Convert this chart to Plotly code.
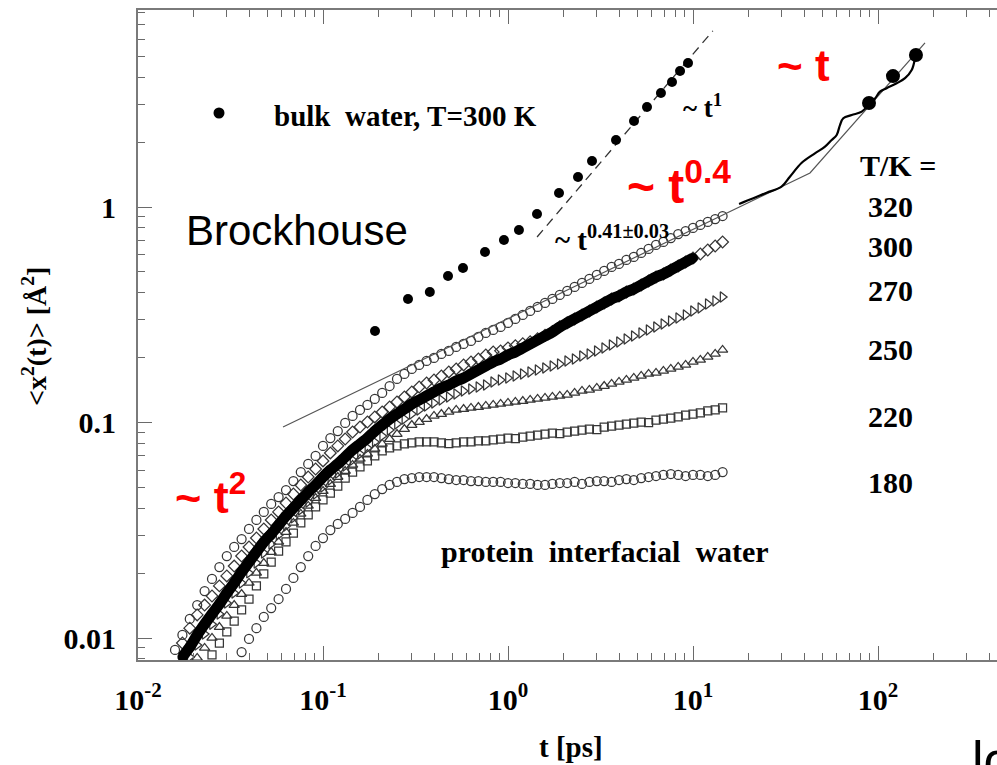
import plotly.graph_objects as go

# ---------------------------------------------------------------------------
# Mean-square displacement <x^2(t)> of water: protein interfacial water at
# several temperatures (open symbols), plus bulk water at T = 300 K.
# ---------------------------------------------------------------------------

# common time grid of the simulation series [ps]
T_GRID = [0.01585, 0.01738, 0.01905, 0.02089, 0.02291, 0.02512, 0.02754, 0.03020, 0.03311, 0.03631,
          0.03981, 0.04365, 0.04786, 0.05248, 0.05754, 0.06310, 0.06918, 0.07586, 0.08318, 0.09120,
          0.1000, 0.1096, 0.1202, 0.1318, 0.1445, 0.1585, 0.1738, 0.1905, 0.2089, 0.2291,
          0.2512, 0.2754, 0.3020, 0.3311, 0.3631, 0.3981, 0.4365, 0.4786, 0.5248, 0.5754,
          0.6310, 0.6918, 0.7586, 0.8318, 0.9120, 1.000, 1.096, 1.202, 1.318, 1.445,
          1.585, 1.738, 1.905, 2.089, 2.291, 2.512, 2.754, 3.020, 3.311, 3.631,
          3.981, 4.365, 4.786, 5.248, 5.754, 6.310, 6.918, 7.586, 8.318, 9.120,
          10.00, 10.96, 12.02, 13.18, 14.45]

# protein interfacial water, <x^2> [A^2]
msd_320 = [0.00880, 0.01033, 0.01226, 0.01422, 0.01652, 0.01880, 0.02134, 0.02401, 0.02645, 0.02879,
           0.03206, 0.0353, 0.03847, 0.04187, 0.0451, 0.0486, 0.0535, 0.0589, 0.0642, 0.0700,
           0.0778, 0.0847, 0.0913, 0.0995, 0.1072, 0.1143, 0.1206, 0.1286, 0.1371, 0.1477,
           0.1592, 0.1680, 0.1772, 0.1850, 0.1930, 0.1993, 0.2080, 0.2148, 0.2241, 0.2314,
           0.2389, 0.2494, 0.2603, 0.2688, 0.2775, 0.2897, 0.3023, 0.3155, 0.3293, 0.3436,
           0.3586, 0.3743, 0.3907, 0.4077, 0.4255, 0.4440, 0.4634, 0.4837, 0.5048, 0.5269,
           0.5440, 0.5678, 0.5863, 0.6119, 0.6385, 0.6664, 0.6881, 0.7179, 0.7493, 0.7737,
           0.7991, 0.8251, 0.852, 0.8796, 0.9083]

msd_300 = [0.00948, 0.01111, 0.0128, 0.01422, 0.01566, 0.01745, 0.01941, 0.02157, 0.02401,
           0.02645, 0.0291, 0.03206, 0.0353, 0.03847, 0.04232, 0.04657, 0.05129, 0.05586, 0.06086,
           0.0663, 0.07222, 0.07785, 0.08384, 0.09035, 0.0953, 0.1005, 0.1061, 0.1119, 0.1180,
           0.1245, 0.1314, 0.1386, 0.1461, 0.1525, 0.1575, 0.1644, 0.1716, 0.1772, 0.1850,
           0.1910, 0.1972, 0.2058, 0.2125, 0.2150, 0.2220, 0.2270, 0.2320, 0.2370, 0.2450,
           0.2540, 0.2645, 0.2780, 0.2900, 0.3025, 0.3157, 0.3295, 0.3438, 0.3588, 0.3745,
           0.3867, 0.4036, 0.4166, 0.4349, 0.4538, 0.4736, 0.4890, 0.5104, 0.5327, 0.5560,
           0.5802, 0.6053, 0.6318, 0.6593, 0.6881]

msd_filled = [0.00817, 0.00908, 0.01033, 0.01159, 0.01293, 0.01437, 0.01617, 0.01801, 0.02026,
              0.02251, 0.02506, 0.0279, 0.03037, 0.03346, 0.03686, 0.04012, 0.0437, 0.04758, 0.05129,
              0.05586, 0.0602, 0.0642, 0.06923, 0.0746, 0.07953, 0.0847, 0.0913, 0.09736, 0.1038,
              0.1095, 0.1155, 0.1219, 0.1272, 0.1328, 0.1386, 0.1446, 0.1493, 0.1558, 0.1609,
              0.1680, 0.1753, 0.1830, 0.1910, 0.1972, 0.2058, 0.2125, 0.2217, 0.2314, 0.2415,
              0.2521, 0.2631, 0.2775, 0.2897, 0.3023, 0.3155, 0.3293, 0.3436, 0.3586, 0.3743,
              0.3865, 0.4034, 0.4164, 0.4347, 0.4536, 0.4734, 0.4888, 0.5102, 0.5325, 0.5558,
              0.5800]

msd_270 = [0.00817, 0.00928, 0.01044, 0.01159, 0.01293, 0.01453, 0.01617, 0.01801,
           0.02005, 0.02227, 0.02479, 0.0273, 0.03005, 0.03311, 0.03608, 0.0393, 0.04278, 0.04657,
           0.0502, 0.0541, 0.0583, 0.06284, 0.0670, 0.07147, 0.0762, 0.08125, 0.08657, 0.0923,
           0.0984, 0.1038, 0.1095, 0.1143, 0.1193, 0.1232, 0.1272, 0.1314, 0.1357, 0.1401,
           0.1431, 0.1461, 0.1493, 0.1542, 0.1575, 0.1609, 0.1644, 0.1680, 0.1716, 0.1753,
           0.1791, 0.1830, 0.1869, 0.1930, 0.1972, 0.2036, 0.2080, 0.2148, 0.2217, 0.2289,
           0.2364, 0.2441, 0.2521, 0.2603, 0.2688, 0.2775, 0.2866, 0.2959, 0.3055, 0.3155,
           0.3293, 0.340, 0.3548, 0.3664, 0.3824]

msd_250 = [0.00808, 0.00899, 0.01001, 0.01123, 0.01266, 0.01422, 0.016,
           0.01801, 0.02005, 0.02227, 0.02506, 0.0279, 0.03103, 0.03418, 0.03765, 0.04099, 0.04462,
           0.04808, 0.05183, 0.05586, 0.05956, 0.06352, 0.06776, 0.07147, 0.07539, 0.07953, 0.08384,
           0.08843, 0.09328, 0.09736, 0.1005, 0.1038, 0.1072, 0.1095, 0.1119, 0.1143, 0.1155,
           0.1168, 0.1180, 0.1193, 0.1206, 0.1219, 0.1232, 0.1245, 0.1258, 0.1272, 0.1286,
           0.1300, 0.1314, 0.1328, 0.1342, 0.1371, 0.1401, 0.1416, 0.1446, 0.1477, 0.1509,
           0.1542, 0.1575, 0.1609, 0.1644, 0.1680, 0.1698, 0.1734, 0.1772, 0.1810, 0.1850,
           0.1910, 0.1951, 0.2015, 0.2080, 0.2171]

msd_220 = [0.00834, 0.00948, 0.01067, 0.01197, 0.0135,
           0.01517, 0.01745, 0.01983, 0.02251, 0.02533, 0.0279, 0.0307, 0.03418, 0.03726, 0.04055,
           0.0437, 0.04706, 0.05074, 0.05526, 0.0589, 0.0622, 0.0663, 0.0700, 0.0738, 0.0762,
           0.07785, 0.07953, 0.08036, 0.08125, 0.08125, 0.08125, 0.08036, 0.07990, 0.08036, 0.08125,
           0.08125, 0.08210, 0.0821, 0.0830, 0.08384, 0.0847, 0.0842, 0.08565, 0.08657, 0.08749,
           0.08843, 0.08939, 0.08880, 0.09035, 0.0913, 0.0923, 0.09328, 0.09270, 0.0953, 0.09632,
           0.09736, 0.0984, 0.09946, 0.1005, 0.0998, 0.1027, 0.1038, 0.1049, 0.1061, 0.1083,
           0.1095, 0.1107, 0.1131, 0.1143, 0.1168]

msd_180 = [0.00861,
           0.0099, 0.01111, 0.01253, 0.01377, 0.01517, 0.01689, 0.019, 0.02134, 0.02401, 0.02673,
           0.0291, 0.0317, 0.03382, 0.03568, 0.03806, 0.04055, 0.0437, 0.04657, 0.04913, 0.05129,
           0.05296, 0.05466, 0.05526, 0.05586, 0.05586, 0.05586, 0.05526, 0.05466, 0.0541, 0.0541,
           0.0535, 0.0535, 0.05296, 0.05296, 0.05296, 0.05239, 0.05239, 0.05184, 0.05184, 0.05129,
           0.05129, 0.05184, 0.05239, 0.05239, 0.05296, 0.05184, 0.05296, 0.0535, 0.0535, 0.05296,
           0.0541, 0.05466, 0.0541, 0.05526, 0.05586, 0.05646, 0.05707, 0.05768, 0.05707, 0.05646,
           0.05707, 0.05707, 0.05646, 0.05707, 0.0589]

# bulk water, T = 300 K
bulk_t = [0.191, 0.288, 0.378, 0.474, 0.571, 0.751, 0.951, 1.146, 1.435, 1.887,
          2.39, 2.845, 3.835, 4.80, 5.64, 6.71, 7.70, 8.51, 9.40]
bulk_msd = [0.266, 0.374, 0.403, 0.478, 0.521, 0.618, 0.703, 0.782, 0.928, 1.161,
            1.378, 1.635, 2.046, 2.506, 2.911, 3.381, 3.802, 4.276, 4.66]

# long-time points and trajectory (diffusive regime)
long_t = [89.4, 120.5, 160.4]
long_msd = [3.04, 4.05, 5.07]
traj_t = [17.74, 21.18, 25.0, 30.1, 33.4, 38.7, 45.6, 51.7, 56.2, 59.8, 62.3,
          64.9, 72.1, 81.7, 90.5, 96.4, 102.5, 111.4, 126.2, 140.0, 152.1, 158.5]
traj_msd = [1.033, 1.097, 1.165, 1.242, 1.382, 1.605, 1.775, 1.905, 2.046, 2.159, 2.40,
            2.58, 2.673, 2.77, 3.03, 3.19, 3.43, 3.56, 3.75, 3.96, 4.32, 4.90]

# guide lines: ~t^0.41 fit continuing into ~t, and ~t^1 for bulk water
fit_t = [0.0608, 42.9, 179.5]
fit_msd = [0.0953, 1.438, 5.77]
lin_t = [1.436, 12.8]
lin_msd = [0.726, 6.57]

# temperature labels
temp_labels = ["320", "300", "270", "250", "220", "180"]

# axis ticks
x_tickvals = [0.01, 0.1, 1, 10, 100]
x_ticktext = ["10<sup>-2</sup>", "10<sup>-1</sup>", "10<sup>0</sup>", "10<sup>1</sup>", "10<sup>2</sup>"]
y_tickvals = [0.01, 0.1, 1]
y_ticktext = ["0.01", "0.1", "1"]

SERIF = "Liberation Serif, Times New Roman, serif"
SANS = "Liberation Sans, Arial, sans-serif"
EDGE = "#363636"

fig = go.Figure()

open_series = [
    (msd_180, 9, "circle-open", 9),
    (msd_220, 5, "square-open", 8),
    (msd_250, 3, "triangle-up-open", 9),
    (msd_270, 2, "triangle-right-open", 9),
    (msd_300, 1, "diamond-open", 9),
    (msd_320, 0, "circle-open", 9),
]
for vals, start, sym, size in open_series:
    fig.add_trace(go.Scatter(
        x=T_GRID[start:start + len(vals)], y=vals, mode="markers",
        marker=dict(symbol=sym, size=size, color=EDGE, line=dict(width=1.25, color=EDGE)),
        showlegend=False, hoverinfo="skip"))

# densely sampled run drawn as a solid band
fig.add_trace(go.Scatter(
    x=T_GRID[1:1 + len(msd_filled)], y=msd_filled, mode="lines+markers",
    line=dict(color="black", width=11, shape="spline", smoothing=0.8),
    marker=dict(symbol="circle", size=10, color="black"),
    showlegend=False, hoverinfo="skip"))

# guide lines
fig.add_trace(go.Scatter(x=fit_t, y=fit_msd, mode="lines",
                         line=dict(color="#555555", width=1.2), showlegend=False, hoverinfo="skip"))
fig.add_trace(go.Scatter(x=lin_t, y=lin_msd, mode="lines",
                         line=dict(color="#333333", width=1.3, dash="9px,6px"),
                         showlegend=False, hoverinfo="skip"))
fig.add_trace(go.Scatter(x=traj_t, y=traj_msd, mode="lines", line_shape="spline",
                         line=dict(color="black", width=2.2), showlegend=False, hoverinfo="skip"))

# bulk water
fig.add_trace(go.Scatter(x=bulk_t, y=bulk_msd, mode="markers",
                         marker=dict(symbol="circle", size=10, color="black"),
                         showlegend=False, hoverinfo="skip"))
fig.add_trace(go.Scatter(x=long_t, y=long_msd, mode="markers",
                         marker=dict(symbol="circle", size=14, color="black"),
                         showlegend=False, hoverinfo="skip"))

# plot-area geometry in pixels (figure is 997 x 765)
PL, PR, PT, PB = 138, 997, 10, 660


def fx(px):
    return (px - PL) / (PR - PL)


def fy(py):
    return (PB - py) / (PB - PT)


def note(text, x, y, size, family=SERIF, color="black", xanchor="center", angle=0):
    fig.add_annotation(text=text, x=fx(x), y=fy(y), xref="paper", yref="paper",
                       xanchor=xanchor, yanchor="middle", showarrow=False, textangle=angle,
                       font=dict(family=family, size=size, color=color))


NB = "\u00a0"
note("Brockhouse", 297, 231, 42, family=SANS)
note("<b>bulk" + NB * 2 + "water, T=300 K</b>", 272, 116, 29, xanchor="left")
note("<b>~ t<sup>1</sup></b>", 681, 106, 27, xanchor="left")
note("<b>~ t<sup>0.41±0.03</sup></b>", 553, 238, 29, xanchor="left")
note("<b>~ t<sup>0.4</sup></b>", 625, 183, 48, family=SANS, color="red", xanchor="left")
note("<b>~ t</b>", 775, 66, 44, family=SANS, color="red", xanchor="left")
note("<b>~ t<sup>2</sup></b>", 173, 494, 45, family=SANS, color="red", xanchor="left")
note("<b>T/K =</b>", 898, 165, 30)
for lab, ypos in zip(temp_labels, [207, 246, 290, 350, 416, 482]):
    note("<b>" + lab + "</b>", 890, ypos, 30)
note("<b>protein" + NB * 2 + "interfacial" + NB * 2 + "water</b>", 439, 551, 30, xanchor="left")
note("<b>t [ps]</b>", 571, 747, 29)
note("<b>&lt;x<sup>2</sup>(t)&gt; [Å<sup>2</sup>]</b>", 34, 337, 28, angle=-90)
note("log", 970, 760, 52, family=SANS, xanchor="left")

# legend symbol for bulk water
fig.add_shape(type="circle", xref="paper", yref="paper",
              x0=fx(213.5), x1=fx(224.5), y0=fy(118.5), y1=fy(107.5),
              fillcolor="black", line=dict(color="black", width=0))

minor_x = [m * 10 ** e for e in range(-2, 3) for m in range(2, 10)]
minor_y = [m * 10 ** e for e in range(-3, 1) for m in range(2, 10)]

axis_common = dict(
    type="log", showline=True, linecolor="#7a7a7a", linewidth=2, mirror="ticks",
    ticks="inside", ticklen=14, tickwidth=1.4, tickcolor="#6a6a6a",
    showgrid=False, zeroline=False,
    tickfont=dict(family=SERIF, size=30, color="black"),
)

fig.update_layout(
    width=997, height=765,
    margin=dict(l=PL, r=997 - PR, t=PT, b=765 - PB, autoexpand=False),
    paper_bgcolor="white", plot_bgcolor="white",
    showlegend=False,
    xaxis=dict(axis_common, range=[-2, -2 + (PR - PL) / 185.0],
               tickmode="array", tickvals=x_tickvals,
               ticktext=["<b>" + t + "</b>" for t in x_ticktext],
               ticklabelstandoff=12,
               minor=dict(ticks="inside", ticklen=7, tickwidth=1.2, tickcolor="#6a6a6a",
                          tickmode="array", tickvals=minor_x, showgrid=False)),
    yaxis=dict(axis_common, range=[-(PB - 207) / 215.5, (207 - PT) / 215.5], mirror=False,
               tickmode="array", tickvals=y_tickvals,
               ticktext=["<b>" + t + "</b>" for t in y_ticktext],
               ticklabelstandoff=14,
               minor=dict(ticks="inside", ticklen=7, tickwidth=1.2, tickcolor="#6a6a6a",
                          tickmode="array", tickvals=minor_y, showgrid=False)),
)

fig.write_html("out.html")
